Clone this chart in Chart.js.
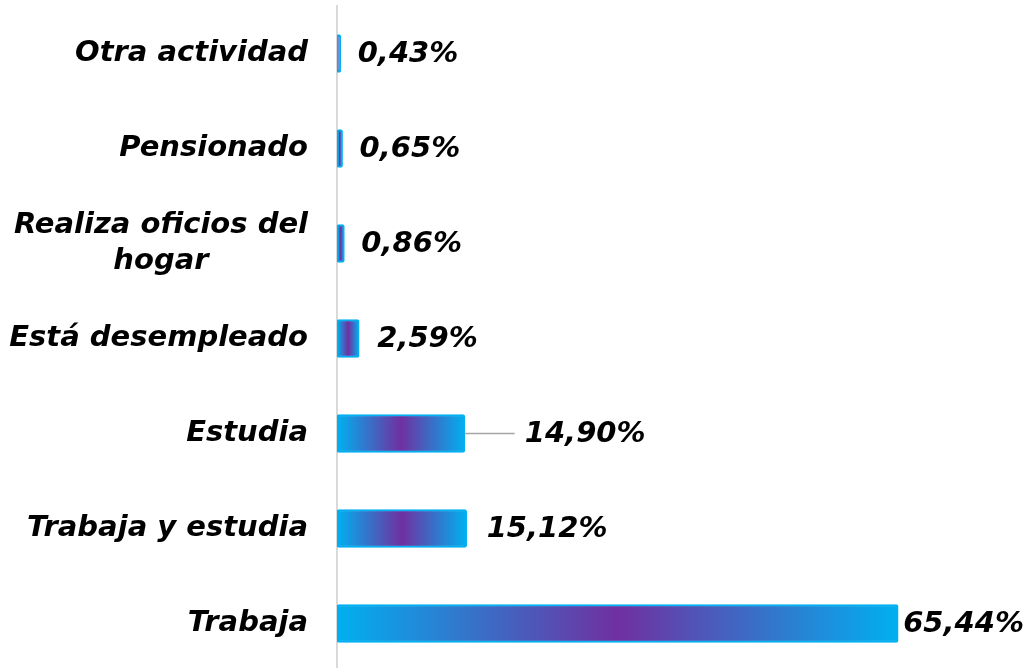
<!DOCTYPE html>
<html>
<head>
<meta charset="utf-8">
<script src="https://cdn.jsdelivr.net/npm/chart.js@4.4.0/dist/chart.umd.min.js"></script>
<style>
html,body{margin:0;padding:0;background:#fff;overflow:hidden}
#wrap{width:1030px;height:671px}
</style>
</head>
<body>
<div id="wrap"><canvas id="grafico"></canvas></div>
<script>

// datos
let categorias=[
"Otra actividad",
"Pensionado",
["Realiza oficios del","hogar"],
"Está desempleado",
"Estudia",
"Trabaja y estudia",
"Trabaja"
]
let valores=[0.43,0.65,0.86,2.59,14.90,15.12,65.44]
let etiquetas=["0,43%","0,65%","0,86%","2,59%","14,90%","15,12%","65,44%"]

// separacion de la etiqueta respecto al final de la barra (Estudia lleva linea guia)
let separacion=[17,17,17,18,60,20,5]

let fuente='bold oblique 29px "DejaVu Sans"'

function degradado(ctx){
let chart=ctx.chart
let x=chart.scales.x
if(!chart.chartArea||!x)return '#00B0F0'
let i=ctx.dataIndex
let x0=x.getPixelForValue(0)
let x1=x.getPixelForValue(valores[i])
if(x1-x0<1)return '#00B0F0'
let g=chart.ctx.createLinearGradient(x0,0,x1,0)
g.addColorStop(0,'#00B0F0')
g.addColorStop(0.5,'#7030A0')
g.addColorStop(1,'#00B0F0')
return g
}

let etiquetasPlugin={
id:'etiquetas',
afterDraw(chart){
let c=chart.ctx
let x=chart.scales.x
let y=chart.scales.y
c.save()
c.font=fuente
c.fillStyle='#000'
c.textBaseline='middle'
categorias.forEach((cat,i)=>{
let py=y.getPixelForValue(i)
// nombre de la categoria
let lineas=Array.isArray(cat)?cat:[cat]
let derecha=chart.chartArea.left-29
if(lineas.length==1){
c.textAlign='right'
c.fillText(lineas[0],derecha,py)
}else{
let ancho=c.measureText(lineas[0]).width
let centro=derecha-ancho/2
c.textAlign='center'
lineas.forEach((l,k)=>{
c.fillText(l,centro,py+(k-(lineas.length-1)/2)*36)
})
}
// valor
let fin=x.getPixelForValue(valores[i])
let sx=fin+separacion[i]
if(separacion[i]>30){
c.strokeStyle='#a6a6a6'
c.lineWidth=1.5
c.beginPath()
c.moveTo(fin,py)
c.lineTo(sx-10,py)
c.stroke()
}
c.textAlign='left'
c.fillText(etiquetas[i],sx,py+1)
})
c.restore()
}
}

let chart=new Chart(
document.getElementById("grafico"),
{
type:'bar',
data:{
labels:categorias,
datasets:[{
data:valores,
backgroundColor:degradado,
borderColor:'#00B0F0',
borderWidth:2,
borderRadius:2,
borderSkipped:false,
barThickness:38
}]
},
options:{
indexAxis:'y',
responsive:true,
maintainAspectRatio:false,
animation:false,
layout:{padding:{left:337,right:7,top:6,bottom:0}},
plugins:{legend:{display:false},tooltip:{enabled:false}},
scales:{
x:{display:false,min:0,max:80},
y:{
ticks:{display:false},
grid:{display:false,drawTicks:false},
border:{display:true,color:'#d9d9d9',width:2}
}
}
},
plugins:[etiquetasPlugin]
}
)

</script>
</body>
</html>
